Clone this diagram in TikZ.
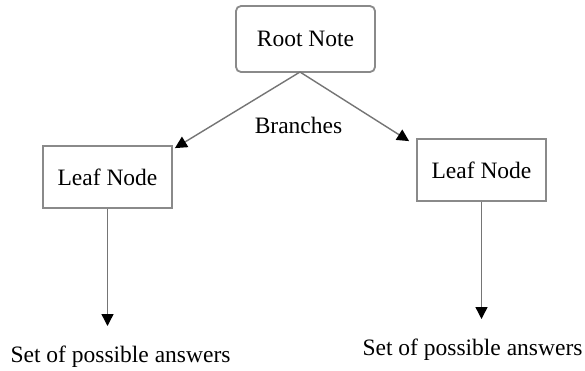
\documentclass[tikz,border=0pt]{standalone}
\usepackage{fontspec}
\setmainfont{Liberation Serif}
\usetikzlibrary{arrows.meta}
\definecolor{boxgray}{HTML}{8A8A8A}
\definecolor{linegray}{HTML}{757575}
\begin{document}
\begin{tikzpicture}[x=1pt,y=-1pt,
  every node/.style={font=\fontsize{23.5}{28}\selectfont},
  boxnode/.style={draw=boxgray,line width=1.8pt,fill=white,inner sep=0pt},
  conn/.style={draw=linegray,line width=1.4pt,-{Triangle[width=12pt,length=12pt,color=black]}},
  lbl/.style={anchor=base,inner sep=0pt}]
\useasboundingbox[fill=white] (0,0) rectangle (585,370);
\node[boxnode,rounded corners=5pt,minimum width=139pt,minimum height=66pt] (root) at (305.5,39) {Root Note};
\node[boxnode,minimum width=129pt,minimum height=62pt] (leafL) at (107.5,177) {Leaf Node};
\node[boxnode,minimum width=129pt,minimum height=62pt] (leafR) at (481.5,170) {Leaf Node};
\node[lbl] (br) at (298.5,133) {Branches};
\coordinate (top) at (300,72);
\coordinate (endL) at (107.5,326);
\coordinate (endR) at (481.5,319);
\node[lbl] (ansL) at (120.5,362) {Set of possible answers};
\node[lbl] (ansR) at (472.5,355) {Set of possible answers};
\draw[conn] (top) -- ([xshift=2pt,yshift=-3pt]leafL.north east);
\draw[conn] (top) -- ([xshift=-7pt,yshift=-3pt]leafR.north west);
\draw[conn] (leafL.south) -- (endL);
\draw[conn] (leafR.south) -- (endR);
\end{tikzpicture}
\end{document}
